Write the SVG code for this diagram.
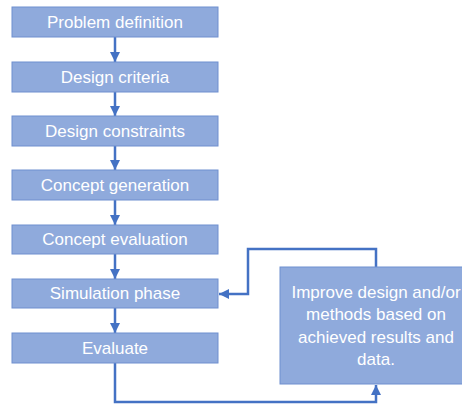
<svg xmlns="http://www.w3.org/2000/svg" width="462" height="405" viewBox="0 0 462 405">
<defs>
<style>
.box{fill:#8FAADC;stroke:#6F8FCF;stroke-width:1}
.t{fill:#FFFFFF;font-family:"Liberation Sans",Arial,sans-serif;font-size:17px;text-anchor:middle;dominant-baseline:central}
.c{fill:none;stroke:#4472C4;stroke-width:2.5}
</style>
<marker id="ah" viewBox="0 0 10 10" refX="10" refY="5" markerWidth="4" markerHeight="4" orient="auto" markerUnits="strokeWidth">
<path d="M0,0 L10,5 L0,10 z" fill="#4472C4"/>
</marker>
</defs>
<rect width="462" height="405" fill="#FFFFFF"/>
<g id="connectors">
<line class="c" x1="115" y1="37" x2="115" y2="62" marker-end="url(#ah)"/>
<line class="c" x1="115" y1="92" x2="115" y2="116" marker-end="url(#ah)"/>
<line class="c" x1="115" y1="146" x2="115" y2="170" marker-end="url(#ah)"/>
<line class="c" x1="115" y1="200" x2="115" y2="225" marker-end="url(#ah)"/>
<line class="c" x1="115" y1="254" x2="115" y2="279" marker-end="url(#ah)"/>
<line class="c" x1="115" y1="308" x2="115" y2="333" marker-end="url(#ah)"/>
<polyline class="c" points="376,267 376,249 248,249 248,294 219,294" marker-end="url(#ah)"/>
<polyline class="c" points="115,363 115,402 376,402 376,385" marker-end="url(#ah)"/>
</g>
<g id="n1"><rect class="box" x="12" y="7" width="206" height="30"/><text class="t" x="115" y="22">Problem definition</text></g>
<g id="n2"><rect class="box" x="12" y="62" width="206" height="30"/><text class="t" x="115" y="77">Design criteria</text></g>
<g id="n3"><rect class="box" x="12" y="116" width="206" height="30"/><text class="t" x="115" y="131">Design constraints</text></g>
<g id="n4"><rect class="box" x="12" y="170" width="206" height="30"/><text class="t" x="115" y="185">Concept generation</text></g>
<g id="n5"><rect class="box" x="12" y="225" width="206" height="29"/><text class="t" x="115" y="239.5">Concept evaluation</text></g>
<g id="n6"><rect class="box" x="12" y="279" width="206" height="29"/><text class="t" x="115" y="293.5">Simulation phase</text></g>
<g id="n7"><rect class="box" x="12" y="333" width="206" height="30"/><text class="t" x="115" y="348">Evaluate</text></g>
<g id="n8"><rect class="box" x="280" y="267" width="190" height="117"/>
<text class="t" x="376" y="292">Improve design and/or</text>
<text class="t" x="376" y="314">methods based on</text>
<text class="t" x="376" y="337">achieved results and</text>
<text class="t" x="376" y="359">data.</text>
</g>
</svg>
